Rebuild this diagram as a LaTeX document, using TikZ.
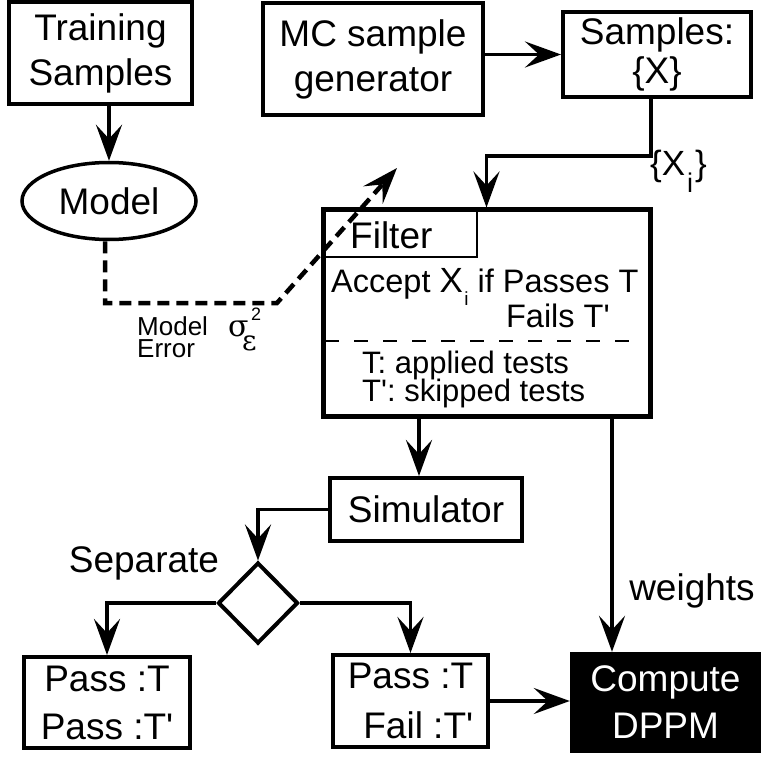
\documentclass[tikz,border=0pt]{standalone}
\usepackage{fontspec}
\setmainfont{Liberation Sans}[Ligatures=TeXOff]
\newfontfamily\greekserif{DejaVu Serif}
\usetikzlibrary{arrows.meta,shapes.geometric}
\newcommand{\fsz}[2]{\fontsize{#1}{#2}\selectfont}

\begin{document}
\begin{tikzpicture}[x=1pt,y=-1pt,
  box/.style={draw, line width=4pt, inner sep=0pt, align=center},
  arr/.style={line width=3.8pt, -{Stealth[length=36pt 0 0,width=26pt 0 0,inset=14pt 0]}},
  dasharr/.style={arr, line width=4.5pt, dash pattern=on 12pt off 7pt},
  thinrule/.style={line width=1.5pt},
  lbl/.style={inner sep=0pt},
  big/.style={font=\fsz{37}{45}}
]
\useasboundingbox (0,0) rectangle (761,757);

% ---- boxes ----
\node[box, big, minimum width=183, minimum height=102] (train) at (100.5,53) {Training\\Samples};
\node[box, big, minimum width=220, minimum height=112] (mc) at (373,59) {MC sample\\generator};
\node[box, font=\fsz{37}{39}, minimum width=188, minimum height=85] (samples) at (657,54.5) {Samples:\\\{X\}};
\node[draw, ellipse, line width=3.5pt, inner sep=0pt, big, minimum width=174, minimum height=77] (model) at (109,201) {Model};
\node[draw, line width=5pt, minimum width=327, minimum height=206] (filter) at (486.5,313) {};
\node[box, big, minimum width=192, minimum height=63] (sim) at (426,509.5) {Simulator};
\node[draw, diamond, line width=4pt, inner sep=0pt, minimum width=80, minimum height=81] (sep) at (258,603) {};
\node[box, font=\fsz{37}{48}, minimum width=166, minimum height=91] (pp) at (107,702.5) {Pass :T\\Pass :T'};
\node[box, font=\fsz{37}{50}, align=right, minimum width=155, minimum height=92] (pf) at (410.5,701) {Pass :T\\Fail :T'};
\node[fill=black, text=white, inner sep=0pt, align=center, font=\fsz{37}{47}, minimum width=191, minimum height=101] (dppm) at (665.5,702.5) {Compute\\DPPM};

% ---- filter contents ----
\coordinate (tab) at (477,257);
\draw[thinrule] (filter.west |- tab) -- (tab) -- (tab |- filter.north);
\node[lbl, anchor=base west, font=\fsz{37}{37}] (ftitle) at (350,248) {Filter};
\node[lbl, anchor=base west, font=\fsz{32.5}{32}] (accept) at (331,292)
  {Accept {\fsz{35}{35}X}\kern1.5pt\raisebox{-13pt}{\fsz{19}{19}i} if Passes T};
\node[lbl, anchor=base east, font=\fsz{32.5}{32}] (fails) at (610,327) {Fails T'};
\coordinate (rulel) at (325,341);
\coordinate (ruler) at (633,341);
\draw[thinrule, dash pattern=on 14pt off 15pt] (rulel) -- (ruler);
\node[lbl, anchor=base west, font=\fsz{31}{30}] (applied) at (362,373) {T: applied tests};
\node[lbl, anchor=base west, font=\fsz{31}{30}] (skipped) at (362,401) {T': skipped tests};

% ---- free labels ----
\node[lbl, anchor=base west, font=\fsz{35}{35}] (xi) at (650,176)
  {\{X\kern2pt\raisebox{-17pt}{\fsz{27}{27}i}\kern2pt\}};
\node[lbl, anchor=west, align=left, font=\fsz{26}{22}] (err) at (137,337) {Model\\Error};
\node[lbl, anchor=base west, font=\greekserif\fsz{30}{30}] (sigma) at (228,336) {σ};
\node[lbl, anchor=base west, font=\fsz{18}{18}] (sq) at (251,320) {2};
\node[lbl, anchor=base west, font=\greekserif\fsz{28}{28}] (eps) at (242,350) {ε};
\node[lbl, anchor=base, font=\fsz{37}{37}] (seplbl) at (144,572) {Separate};
\node[lbl, anchor=base, font=\fsz{37}{37}] (wlbl) at (692,600) {weights};

% ---- connectors ----
\draw[arr] (train.south -| model.north) -- (model.north);
\draw[arr] (mc.east |- samples.west) -- (samples.west);
\coordinate (bend) at (651,156);
\draw[arr] (samples.south -| bend) -- (bend) -| (filter.north);
\coordinate (simx) at (419,0);
\draw[arr] (filter.south -| simx) -- (sim.north -| simx);
\coordinate (wx) at (612,0);
\draw[arr] (filter.south -| wx) -- (dppm.north -| wx);
\draw[arr] (sim.west) -| (sep.north);
\draw[arr] (sep.west) -| (pp.north);
\draw[arr] (sep.east) -| (pf.north);
\draw[arr] (pf.east) -- (pf.east -| dppm.west);

% ---- model error feed ----
\coordinate (d1) at (105,303);
\coordinate (d2) at (277,303);
\coordinate (dtip) at (397,168);
\draw[dasharr] (model.south -| d1) -- (d1) -- (d2) -- (dtip);
\end{tikzpicture}
\end{document}
